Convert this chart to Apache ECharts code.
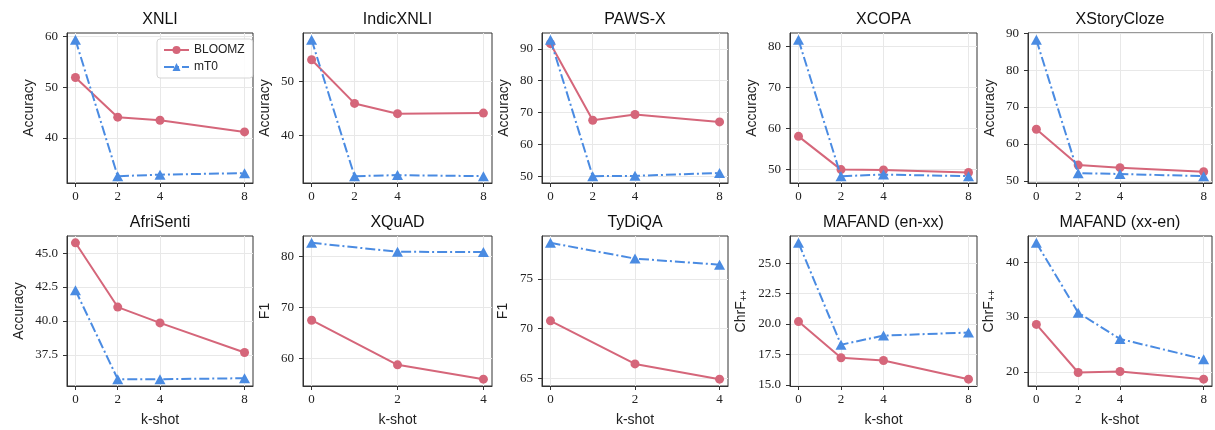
<!DOCTYPE html>
<html><head><meta charset="utf-8">
<script src="https://cdn.jsdelivr.net/npm/echarts@6/dist/echarts.min.js"></script>
<style>html,body{margin:0;padding:0;background:#fff}#c{width:1215px;height:430px}</style>
</head><body><div id="c"></div>
<script>
// ---------- data ----------
const titles = ['XNLI','IndicXNLI','PAWS-X','XCOPA','XStoryCloze','AfriSenti','XQuAD','TyDiQA','MAFAND (en-xx)','MAFAND (xx-en)'];
const yNames = ['Accuracy','Accuracy','Accuracy','Accuracy','Accuracy','Accuracy','F1','F1','{a|ChrF}{b|++}','{a|ChrF}{b|++}'];
const seriesNames = ['BLOOMZ','mT0'];
const shots8 = [0,2,4,8];
const shots4 = [0,2,4];

const xnliBloomz   = [51.9, 44.1, 43.5, 41.2];
const xnliMt0      = [59.3, 32.5, 32.8, 33.1];
const indicBloomz  = [54.0, 45.9, 44.0, 44.1];
const indicMt0     = [57.7, 32.4, 32.6, 32.4];
const pawsBloomz   = [91.6, 67.6, 69.4, 67.1];
const pawsMt0      = [92.8, 50.1, 50.2, 51.1];
const xcopaBloomz  = [58.1, 50.0, 49.9, 49.3];
const xcopaMt0     = [81.6, 48.4, 48.8, 48.4];
const xstoryBloomz = [64.0, 54.3, 53.6, 52.5];
const xstoryMt0    = [88.2, 52.1, 51.9, 51.3];
const afriBloomz   = [45.76, 41.02, 39.85, 37.67];
const afriMt0      = [42.26, 35.7, 35.7, 35.77];
const xquadBloomz  = [67.5, 58.8, 56.0];
const xquadMt0     = [82.6, 80.85, 80.8];
const tydiBloomz   = [70.78, 66.44, 64.9];
const tydiMt0      = [78.64, 77.05, 76.44];
const enxxBloomz   = [20.2, 17.23, 17.0, 15.47];
const enxxMt0      = [26.67, 18.3, 19.05, 19.3];
const xxenBloomz   = [28.65, 19.87, 20.05, 18.65];
const xxenMt0      = [43.56, 30.8, 26.0, 22.3];

const yTicksXnli   = [40, 50, 60];
const yTicksIndic  = [40, 50];
const yTicksPaws   = [50, 60, 70, 80, 90];
const yTicksXcopa  = [50, 60, 70, 80];
const yTicksXstory = [50, 60, 70, 80, 90];
const yTicksAfri   = [37.5, 40, 42.5, 45];
const yTicksXquad  = [60, 70, 80];
const yTicksTydi   = [65, 70, 75];
const yTicksEnxx   = [15, 17.5, 20, 22.5, 25];
const yTicksXxen   = [20, 30, 40];

// ---------- assembly ----------
const panels = [
  {shots: shots8, b: xnliBloomz,   m: xnliMt0,   yt: yTicksXnli,   dec: 0},
  {shots: shots8, b: indicBloomz,  m: indicMt0,  yt: yTicksIndic,  dec: 0},
  {shots: shots8, b: pawsBloomz,   m: pawsMt0,   yt: yTicksPaws,   dec: 0},
  {shots: shots8, b: xcopaBloomz,  m: xcopaMt0,  yt: yTicksXcopa,  dec: 0},
  {shots: shots8, b: xstoryBloomz, m: xstoryMt0, yt: yTicksXstory, dec: 0},
  {shots: shots8, b: afriBloomz,   m: afriMt0,   yt: yTicksAfri,   dec: 1},
  {shots: shots4, b: xquadBloomz,  m: xquadMt0,  yt: yTicksXquad,  dec: 0},
  {shots: shots4, b: tydiBloomz,   m: tydiMt0,   yt: yTicksTydi,   dec: 0},
  {shots: shots8, b: enxxBloomz,   m: enxxMt0,   yt: yTicksEnxx,   dec: 1},
  {shots: shots8, b: xxenBloomz,   m: xxenMt0,   yt: yTicksXxen,   dec: 0}
];

const cols = [[67,253],[303,492],[542,728],[790,977],[1028,1212]];
const rows = [[33,183],[236,386]];
const nameGaps = [31,31,31,31,31,41,31,32,41,31];
const titleY = [20, 223];

const RED = '#d5667a', BLUE = '#4a8be2';
const SERIF = 'Liberation Serif', SANS = 'Liberation Sans';
const TXT = '#222', SPINE = '#333', GRID = '#e8e8e8';

function margins(arr){
  const lo = Math.min(...arr), hi = Math.max(...arr), d = (hi-lo)*0.05;
  return [lo-d, hi+d];
}

const grid = [], xAxis = [], yAxis = [], series = [], graphic = [];
panels.forEach((p, i) => {
  const r = Math.floor(i/5), c = i%5;
  const [l, rt] = cols[c], [t, b] = rows[r];
  grid.push({left: l, top: t, width: rt-l, height: b-t, show: true,
    borderColor: SPINE, borderWidth: 1, backgroundColor: 'transparent'});
  const xl = margins(p.shots);
  const yl = margins(p.b.concat(p.m));
  xAxis.push({type: 'value', gridIndex: i, min: xl[0], max: xl[1],
    name: r === 1 ? 'k-shot' : '', nameLocation: 'middle', nameGap: 27,
    nameTextStyle: {fontFamily: SANS, fontSize: 14, color: TXT},
    axisLine: {show: true, onZero: false, lineStyle: {color: SPINE, width: 1}},
    axisTick: {show: true, length: 4, lineStyle: {color: SPINE}, customValues: p.shots},
    axisLabel: {fontFamily: SERIF, fontSize: 13, color: TXT, margin: 7, customValues: p.shots,
      formatter: v => String(v)},
    splitLine: {show: true, lineStyle: {color: GRID, width: 1}}
  });
  yAxis.push({type: 'value', gridIndex: i, min: yl[0], max: yl[1],
    name: yNames[i], nameLocation: 'middle', nameGap: nameGaps[i],
    nameTextStyle: {fontFamily: SANS, fontSize: 14, color: TXT,
      rich: {a: {fontFamily: SANS, fontSize: 14, color: TXT},
             b: {fontFamily: SANS, fontSize: 10, color: TXT, padding: [6, 0, 0, 0]}}},
    axisLine: {show: true, onZero: false, lineStyle: {color: SPINE, width: 1}},
    axisTick: {show: true, length: 4, lineStyle: {color: SPINE}, customValues: p.yt},
    axisLabel: {fontFamily: SERIF, fontSize: 13, color: TXT, margin: 9, customValues: p.yt,
      formatter: v => v.toFixed(p.dec)},
    splitLine: {show: true, lineStyle: {color: GRID, width: 1}}
  });
  series.push({type: 'line', name: seriesNames[0], xAxisIndex: i, yAxisIndex: i,
    data: p.shots.map((s, k) => [s, p.b[k]]),
    symbol: 'circle', symbolSize: 9, color: RED,
    itemStyle: {color: RED}, lineStyle: {color: RED, width: 2},
    emphasis: {disabled: true}, animation: false, clip: false, z: 3});
  series.push({type: 'line', name: seriesNames[1], xAxisIndex: i, yAxisIndex: i,
    data: p.shots.map((s, k) => [s, p.m[k]]),
    symbol: 'triangle', symbolSize: [11, 10], color: BLUE,
    itemStyle: {color: BLUE}, lineStyle: {color: BLUE, width: 2, type: [10, 3, 2, 3]},
    emphasis: {disabled: true}, animation: false, clip: false, z: 4});
  graphic.push({type: 'text', x: (l+rt)/2, y: titleY[r],
    style: {text: titles[i], fontFamily: SANS, fontSize: 16, fill: '#111',
      textAlign: 'center', textVerticalAlign: 'middle'}});
});

const chart = echarts.init(document.getElementById('c'), null, {renderer: 'canvas'});
chart.setOption({
  backgroundColor: '#fff',
  animation: false,
  grid, xAxis, yAxis, series, graphic,
  legend: {data: seriesNames, orient: 'vertical', left: 157, top: 39,
    itemWidth: 25, itemHeight: 10, itemGap: 5,
    backgroundColor: 'rgba(255,255,255,0.85)', borderColor: '#d5d5d5', borderWidth: 1, borderRadius: 3,
    padding: [5, 8, 5, 6],
    textStyle: {fontFamily: SANS, fontSize: 12, color: TXT}}
});
</script></body></html>
